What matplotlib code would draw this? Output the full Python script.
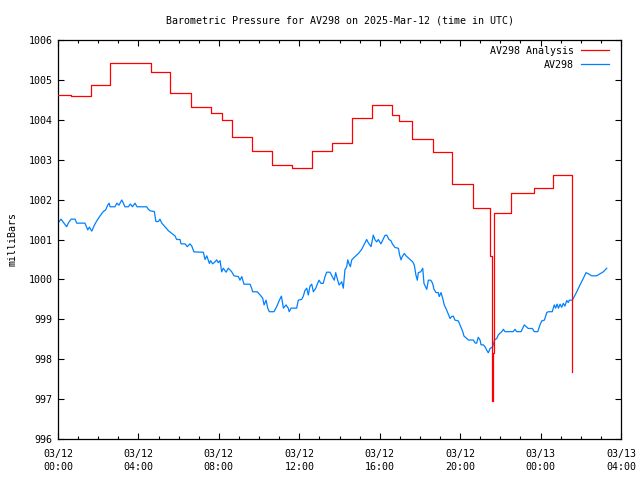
import matplotlib
matplotlib.use("Agg")
import matplotlib.pyplot as plt
from matplotlib.ticker import MultipleLocator

# hours since 03/12 00:00 UTC
analysis_t = [0.00, 0.65, 1.62, 2.61, 4.63, 5.57, 6.61, 7.61, 8.16, 8.65, 9.65,
              10.64, 11.64, 12.63, 13.63, 14.62, 15.62, 16.59, 16.96, 17.63,
              18.63, 19.60, 20.64, 21.50, 21.57, 21.63, 21.68, 22.53, 23.67,
              24.64, 25.56, 25.58]
analysis_p = [1004.62, 1004.59, 1004.87, 1005.42, 1005.19, 1004.67, 1004.31,
              1004.17, 1003.99, 1003.56, 1003.22, 1002.87, 1002.80, 1003.22,
              1003.43, 1004.04, 1004.36, 1004.12, 1003.97, 1003.51, 1003.19,
              1002.38, 1001.80, 1000.59, 996.94, 998.15, 1001.66, 1002.16,
              1002.28, 1002.62, 1000.16, 997.69]

obs_t = [0.00, 0.15, 0.27, 0.43, 0.51, 0.65, 0.85, 0.93, 1.34, 1.48, 1.56, 1.68,
         1.81, 1.92, 2.09, 2.25, 2.37, 2.47, 2.54, 2.59, 2.83, 2.93, 3.03, 3.17,
         3.25, 3.33, 3.50, 3.60, 3.70, 3.83, 3.93, 4.41, 4.49, 4.58, 4.79, 4.87,
         4.99, 5.07, 5.16, 5.32, 5.49, 5.69, 5.82, 5.90, 6.07, 6.12, 6.32, 6.43,
         6.56, 6.65, 6.76, 7.23, 7.31, 7.40, 7.53, 7.59, 7.69, 7.81, 7.89, 7.97,
         8.06, 8.14, 8.22, 8.36, 8.47, 8.55, 8.64, 8.75, 8.97, 9.05, 9.14, 9.25,
         9.55, 9.63, 9.68, 9.91, 10.05, 10.18, 10.25, 10.35, 10.43, 10.51, 10.74,
         10.88, 11.01, 11.11, 11.21, 11.34, 11.45, 11.50, 11.59, 11.87, 11.95,
         12.12, 12.20, 12.28, 12.37, 12.45, 12.53, 12.62, 12.70, 12.82, 12.88,
         12.98, 13.08, 13.19, 13.28, 13.36, 13.53, 13.64, 13.74, 13.81, 13.91,
         13.98, 14.11, 14.19, 14.27, 14.36, 14.41, 14.47, 14.54, 14.61, 14.77,
         14.94, 15.10, 15.27, 15.35, 15.43, 15.57, 15.68, 15.77, 15.85, 15.93,
         16.06, 16.26, 16.35, 16.46, 16.56, 16.63, 16.76, 16.93, 16.99, 17.06,
         17.12, 17.22, 17.31, 17.51, 17.64, 17.72, 17.80, 17.87, 17.92, 18.04,
         18.14, 18.20, 18.34, 18.42, 18.54, 18.63, 18.70, 18.80, 18.91, 18.96,
         19.05, 19.13, 19.21, 19.33, 19.41, 19.50, 19.58, 19.66, 19.74, 19.91,
         19.99, 20.13, 20.19, 20.33, 20.41, 20.66, 20.74, 20.82, 20.90, 20.99,
         21.04, 21.15, 21.24, 21.32, 21.40, 21.49, 21.62, 21.71, 21.82, 21.90,
         21.98, 22.07, 22.15, 22.23, 22.64, 22.73, 22.81, 22.94, 23.03, 23.19,
         23.39, 23.59, 23.69, 23.86, 23.97, 24.06, 24.19, 24.31, 24.39, 24.58,
         24.68, 24.75, 24.82, 24.89, 24.97, 25.05, 25.13, 25.21, 25.30, 25.38,
         25.43, 25.58, 25.80, 25.96, 26.13, 26.26, 26.38, 26.54, 26.79, 26.96,
         27.12, 27.29]
obs_p = [1001.41, 1001.51, 1001.43, 1001.32, 1001.41, 1001.51, 1001.51, 1001.41,
         1001.41, 1001.24, 1001.31, 1001.21, 1001.36, 1001.46, 1001.59, 1001.70,
         1001.74, 1001.86, 1001.91, 1001.82, 1001.82, 1001.91, 1001.86, 1001.99,
         1001.91, 1001.82, 1001.82, 1001.89, 1001.82, 1001.91, 1001.82, 1001.82,
         1001.76, 1001.72, 1001.70, 1001.45, 1001.45, 1001.51, 1001.41, 1001.32,
         1001.22, 1001.14, 1001.09, 1001.00, 1001.00, 1000.89, 1000.89, 1000.82,
         1000.89, 1000.84, 1000.69, 1000.68, 1000.50, 1000.59, 1000.40, 1000.47,
         1000.39, 1000.44, 1000.49, 1000.42, 1000.47, 1000.19, 1000.28, 1000.18,
         1000.28, 1000.24, 1000.19, 1000.09, 1000.07, 999.98, 1000.07, 999.88,
         999.88, 999.78, 999.69, 999.69, 999.61, 999.53, 999.36, 999.48, 999.28,
         999.19, 999.19, 999.32, 999.48, 999.58, 999.28, 999.36, 999.28, 999.19,
         999.28, 999.28, 999.48, 999.50, 999.58, 999.72, 999.78, 999.61, 999.83,
         999.88, 999.69, 999.78, 999.86, 999.98, 999.90, 999.90, 1000.07, 1000.18,
         1000.18, 1000.07, 999.98, 1000.17, 999.98, 999.86, 999.94, 999.78,
         1000.24, 1000.32, 1000.49, 1000.40, 1000.32, 1000.49, 1000.57, 1000.65,
         1000.75, 1000.92, 1001.00, 1000.92, 1000.82, 1001.11, 1000.99, 1000.94,
         1001.00, 1000.89, 1001.10, 1001.11, 1001.00, 1000.97, 1000.89, 1000.80,
         1000.78, 1000.61, 1000.49, 1000.57, 1000.65, 1000.59, 1000.50, 1000.44,
         1000.36, 1000.11, 999.98, 1000.17, 1000.19, 1000.28, 999.90, 999.75,
         999.98, 999.98, 999.90, 999.75, 999.67, 999.67, 999.57, 999.67, 999.53,
         999.36, 999.23, 999.13, 999.02, 999.07, 999.08, 998.98, 998.96, 998.86,
         998.69, 998.58, 998.52, 998.48, 998.48, 998.41, 998.40, 998.55, 998.48,
         998.36, 998.36, 998.31, 998.23, 998.16, 998.27, 998.31, 998.48, 998.52,
         998.61, 998.65, 998.69, 998.75, 998.69, 998.69, 998.75, 998.69, 998.69,
         998.69, 998.86, 998.77, 998.77, 998.69, 998.69, 998.86, 998.96, 998.98,
         999.17, 999.19, 999.19, 999.36, 999.28, 999.38, 999.28, 999.38, 999.30,
         999.40, 999.33, 999.47, 999.42, 999.48, 999.48, 999.69, 999.86, 1000.03,
         1000.17, 1000.14, 1000.09, 1000.09, 1000.14, 1000.19, 1000.28]

tick_hours = [0, 4, 8, 12, 16, 20, 24, 28]
tick_labels = ["03/12\n00:00", "03/12\n04:00", "03/12\n08:00", "03/12\n12:00",
               "03/12\n16:00", "03/12\n20:00", "03/13\n00:00", "03/13\n04:00"]

plt.rcParams['font.family'] = ['DejaVu Sans Mono']
plt.rcParams['font.size'] = 7.2

fig = plt.figure(figsize=(6.4, 4.8), dpi=100)
ax = fig.add_axes([58/640, 1 - 439/480, (621 - 58)/640, (439 - 40)/480])

ax.plot(analysis_t, analysis_p, drawstyle='steps-post', color='#ff0000',
        lw=0.9, label='AV298 Analysis', zorder=3)
ax.plot(obs_t, obs_p, color='#0080ff', lw=0.9, label='AV298', zorder=2)

ax.set_xlim(0, 28)
ax.set_ylim(996, 1006)
ax.set_xticks(tick_hours)
ax.set_xticklabels(tick_labels, fontsize=7.2, linespacing=1.45)
ax.xaxis.set_minor_locator(MultipleLocator(1))
ax.set_yticks(range(996, 1007))
ax.tick_params(which='both', direction='in', top=True, right=True, width=0.8,
               colors='black')
ax.tick_params(which='major', length=4.0, pad=4)
ax.tick_params(axis='x', which='major', pad=7)
ax.tick_params(which='minor', length=2.0)
for s in ax.spines.values():
    s.set_linewidth(0.9)

ax.set_ylabel('milliBars', labelpad=8)
ax.set_title('Barometric Pressure for AV298 on 2025-Mar-12 (time in UTC)',
             fontsize=7.2, pad=12)

leg = ax.legend(loc='upper right', bbox_to_anchor=(1 - 6/563, 1),
                frameon=False, markerfirst=False,
                handlelength=2.8, handletextpad=0.7, borderaxespad=0.3,
                borderpad=0.3, labelspacing=0.4)
for t in leg.get_texts():
    t.set_ha('right')

fig.savefig('out.png', dpi=100)
